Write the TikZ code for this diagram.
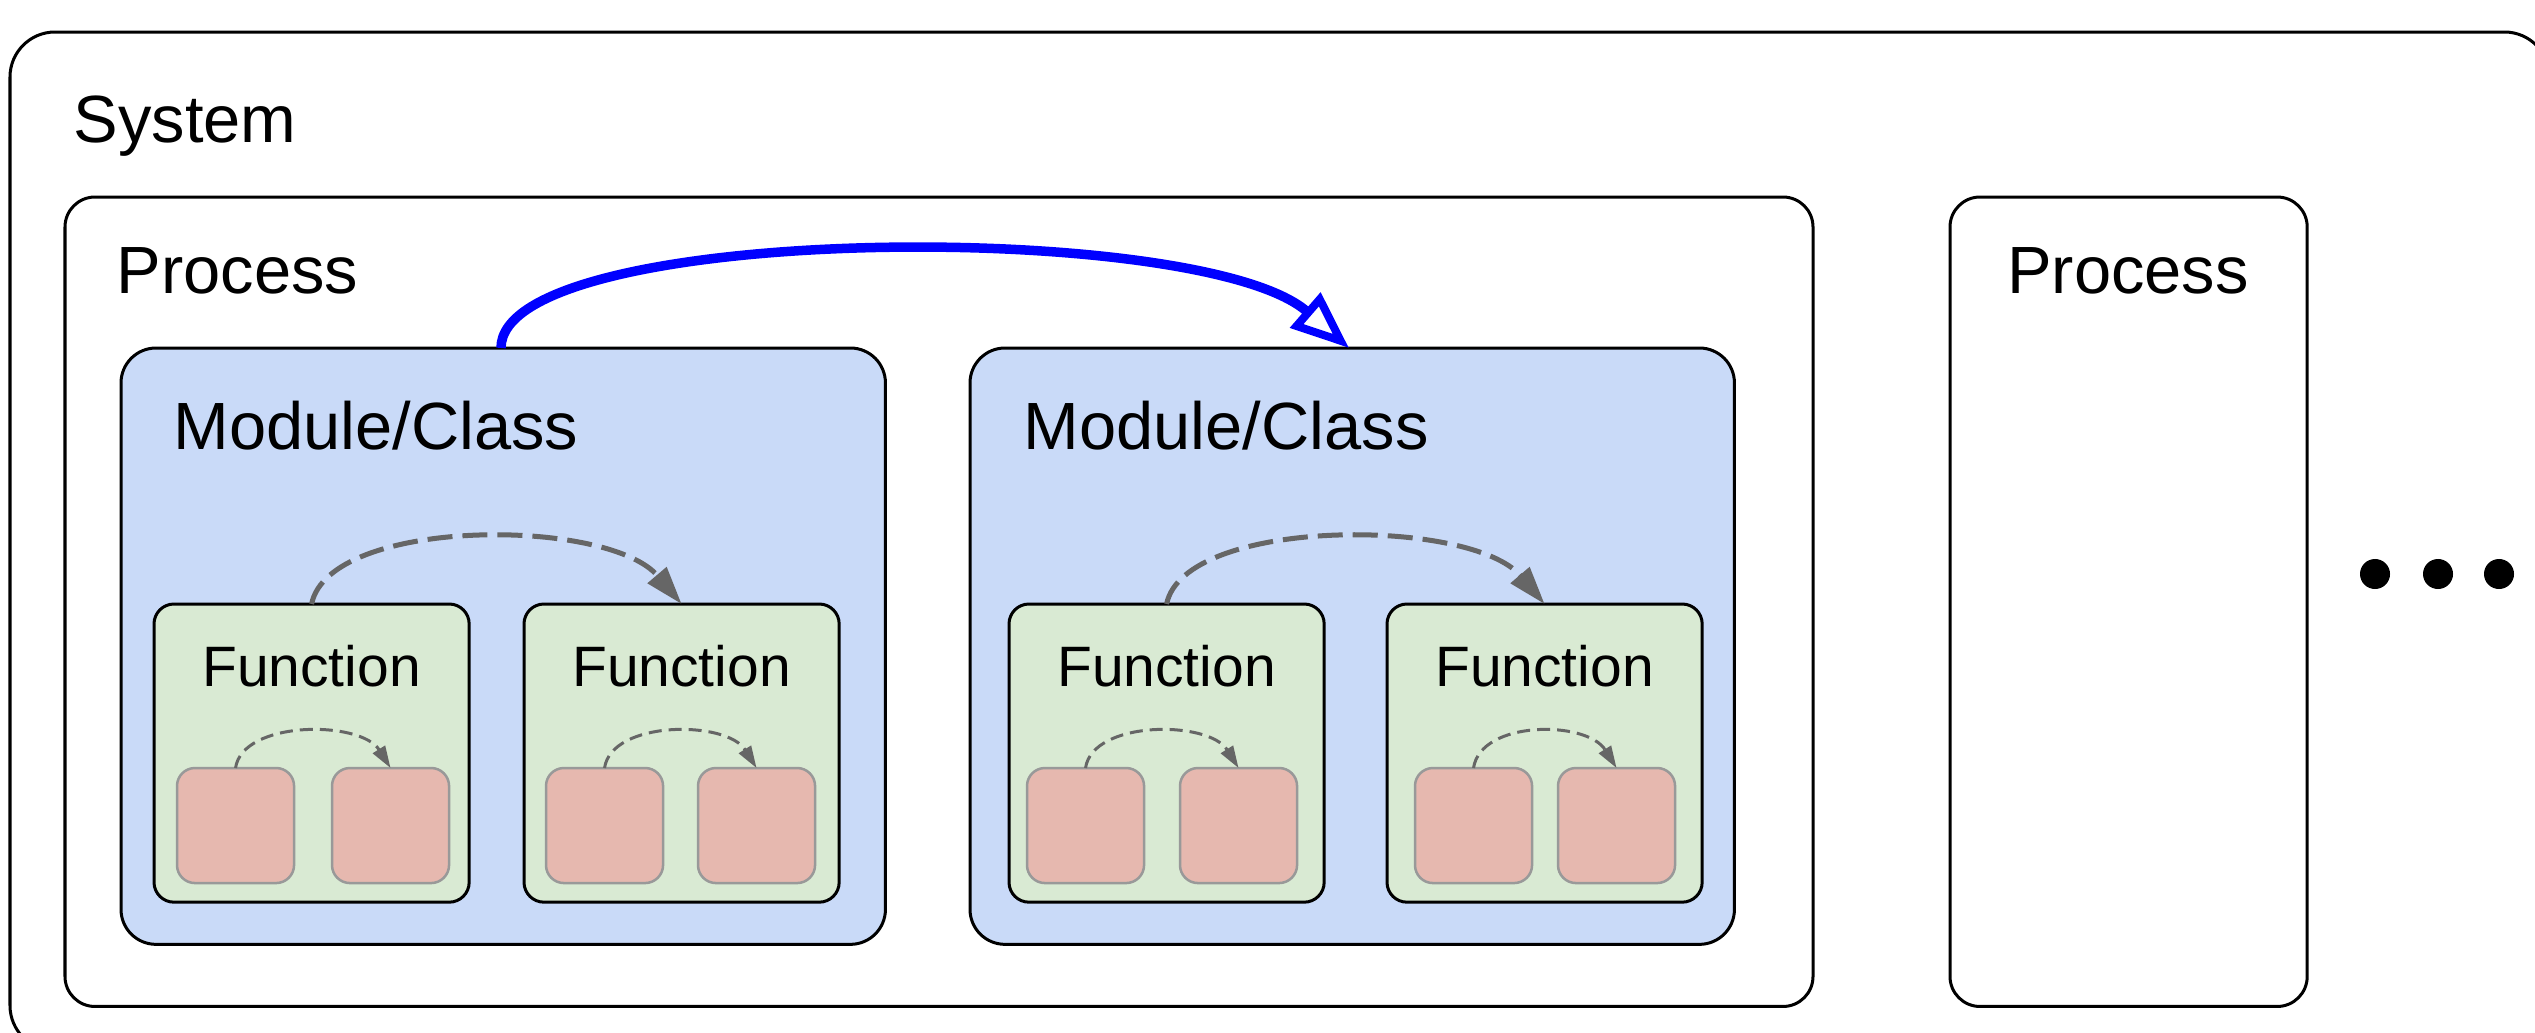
\documentclass[tikz,border=0pt]{standalone}
\usepackage{fontspec}
\setmainfont{Liberation Sans}
\usetikzlibrary{arrows.meta,calc}

\definecolor{modfill}{HTML}{C9DAF8}
\definecolor{funfill}{HTML}{D9EAD3}
\definecolor{unitfill}{HTML}{E6B8AF}
\definecolor{unitline}{HTML}{999999}
\definecolor{callgray}{HTML}{666666}
\definecolor{ipcblue}{HTML}{0000FF}

\tikzset{
  box/.style={rectangle, draw=black, line width=0.03cm, outer sep=0pt,
              inner sep=0pt, anchor=north west},
  sysbox/.style={box, rounded corners=0.45cm, fill=white},
  procbox/.style={box, rounded corners=0.3cm, fill=white},
  modbox/.style={box, rounded corners=0.35cm, fill=modfill},
  funbox/.style={box, rounded corners=0.2cm, fill=funfill,
                 minimum width=3.15cm, minimum height=2.98cm},
  unitbox/.style={box, draw=unitline, line width=0.025cm, rounded corners=0.18cm,
                  fill=unitfill, minimum width=1.17cm, minimum height=1.15cm},
  biglabel/.style={font=\fontsize{19pt}{22pt}\selectfont, inner sep=0pt, anchor=base west},
  funlabel/.style={font=\fontsize{16.2pt}{19pt}\selectfont, inner sep=0pt, anchor=base},
  ipc/.style={draw=ipcblue, line width=0.095cm,
              -{Triangle[open, length=0.58cm, width=0.45cm, line width=0.08cm]}},
  fcall/.style={draw=callgray, line width=0.05cm, dash pattern=on 0.25cm off 0.1cm,
                -{Triangle[length=0.38cm, width=0.24cm]}},
  ucall/.style={draw=callgray, line width=0.03cm, dash pattern=on 0.13cm off 0.07cm,
                -{Triangle[length=0.22cm, width=0.14cm]}},
  dot/.style={circle, fill=black, inner sep=0pt, minimum size=0.3cm}
}

\begin{document}
\begin{tikzpicture}[x=0.01cm, y=-0.01cm]
\useasboundingbox (0,0) rectangle (2535,1033);

% outer system frame, partly running off the page
\begin{scope}
  \clip (0,0) rectangle (2535,1033);
  \node[sysbox, minimum width=25.38cm, minimum height=10.18cm] (sys) at (10,32) {};
\end{scope}
\node[biglabel] (syslabel) at (73,142) {System};

% processes
\node[procbox, minimum width=17.47cm, minimum height=8.09cm] (p1) at (65,197) {};
\node[biglabel] (p1label) at (116,293) {Process};
\node[procbox, minimum width=3.57cm, minimum height=8.09cm] (p2) at (1950,197) {};
\node[biglabel, anchor=base] (p2label) at (2128,293) {Process};

% modules
\node[modbox, minimum width=7.64cm, minimum height=5.96cm] (m1) at (121,348) {};
\node[biglabel] (m1label) at (173,449) {Module/Class};
\node[modbox, minimum width=7.64cm, minimum height=5.96cm] (m2) at (970,348) {};
\node[biglabel] (m2label) at (1023,449) {Module/Class};

% functions, each with two inner units and a call between them
\foreach \i/\x/\ua/\ub in {1/154/23/178, 2/524/22/174, 3/1009/18/171, 4/1387/28/171} {
  \node[funbox] (f\i) at (\x,604) {};
  \node[funlabel] (f\i label) at ($(f\i.north)+(0,82)$) {Function};
  \node[unitbox] (u\i a) at ($(f\i.north west)+(\ua,164)$) {};
  \node[unitbox] (u\i b) at ($(f\i.north west)+(\ub,164)$) {};
  \draw[ucall] (u\i a.north) .. controls +(7,-48) and +(-30,-48) .. (u\i b.north);
}

% calls between functions
\draw[fcall] (f1.north) .. controls +(18,-87) and +(-74,-87) .. (f2.north);
\draw[fcall] (f3.north) .. controls +(18,-87) and +(-74,-87) .. (f4.north);

% call between modules
\coordinate (ipcstart) at ($(m1.north west)+(380,0)$);
\coordinate (ipcend) at ($(m2.north west)+(379,0)$);
\draw[ipc] (ipcstart) .. controls +(0,-125) and +(-150,-130) .. (ipcend);

% more processes follow
\node[dot] (d1) at (2375,574) {};
\node[dot] (d2) at (2438,574) {};
\node[dot] (d3) at (2499,574) {};
\end{tikzpicture}
\end{document}
